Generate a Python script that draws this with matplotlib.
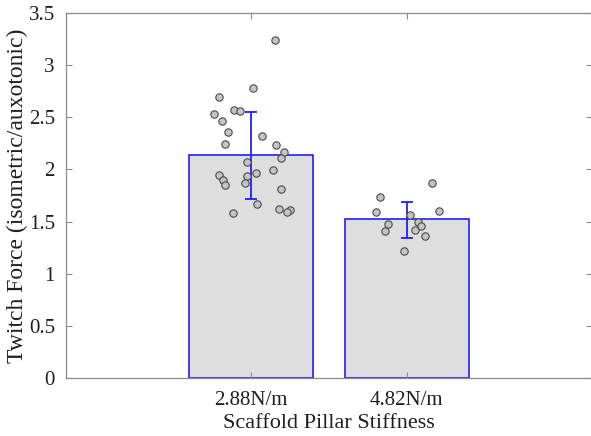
import numpy as np
import matplotlib.pyplot as plt

labels = ['2.88N/m', '4.82N/m']
means = [2.14, 1.52]
err_low = [0.42, 0.18]
err_high = [0.41, 0.17]

# individual samples (value, horizontal jitter in bar units)
vals_1 = [3.24, 2.78, 2.69, 2.57, 2.56, 2.53, 2.46, 2.36, 2.32, 2.24, 2.23, 2.17, 2.11, 2.07,
          1.99, 1.97, 1.94, 1.95, 1.90, 1.87, 1.85, 1.81, 1.67, 1.62, 1.61, 1.59, 1.58]
jit_1 = [0.15, 0.01, -0.21, -0.11, -0.07, -0.24, -0.19, -0.15, 0.07, -0.17, 0.16, 0.21, 0.19, -0.03,
         0.14, 0.03, -0.03, -0.21, -0.18, -0.04, -0.17, 0.19, 0.04, 0.18, 0.25, 0.23, -0.12]
vals_2 = [1.87, 1.74, 1.59, 1.60, 1.56, 1.50, 1.48, 1.46, 1.41, 1.42, 1.36, 1.22]
jit_2 = [0.16, -0.17, -0.20, 0.21, 0.02, 0.07, -0.12, 0.09, -0.14, 0.05, 0.12, -0.02]

plt.rcParams['font.family'] = ['Liberation Serif', 'DejaVu Serif']

fig = plt.figure(figsize=(5.91, 4.36), dpi=100)
ax = fig.add_axes([66/591, 1 - 378/436, 526/591, 365/436])

x = np.arange(len(labels))
ax.bar(x, means, width=0.8, color='#dedede', edgecolor='#1f1fff', linewidth=1.2, zorder=1)
ax.errorbar(x, means, yerr=[err_low, err_high], fmt='none', ecolor='#1f1fff',
            elinewidth=1.3, capsize=4, capthick=1.3, zorder=2)

ax.scatter(x[0] + np.array(jit_1), vals_1, s=28, facecolor='#c4c4c4', edgecolor='#4a4a4a',
           linewidth=0.8, zorder=3)
ax.scatter(x[1] + np.array(jit_2), vals_2, s=28, facecolor='#c4c4c4', edgecolor='#4a4a4a',
           linewidth=0.8, zorder=3)

ax.set_xlim(-1.19, 2.19)
ax.set_ylim(0, 3.5)
ax.set_xticks(x)
ax.set_xticklabels(labels)
ax.set_yticks(np.arange(0, 3.51, 0.5))
ax.set_yticklabels(['0', '0.5', '1', '1.5', '2', '2.5', '3', '3.5'])

for s in ax.spines.values():
    s.set_color('#8c8c8c')
    s.set_linewidth(0.9)
ax.tick_params(direction='in', length=4, width=0.8, color='#8c8c8c', labelcolor='#1f1f1f',
               labelsize=15, top=True, right=True)
ax.tick_params(axis='y', pad=8)
ax.tick_params(axis='x', pad=9)

ax.set_xlabel('Scaffold Pillar Stiffness', fontsize=16, color='#1f1f1f', labelpad=3)
ax.set_ylabel('Twitch Force (isometric/auxotonic)', fontsize=17, color='#1f1f1f', va='center')
ax.yaxis.set_label_coords(-0.092, 0.5)

fig.savefig('out.png', dpi=100)
